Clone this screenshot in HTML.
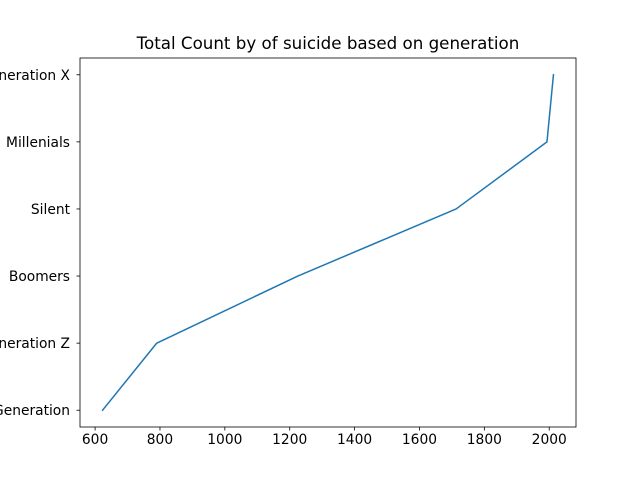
<!DOCTYPE html>
<html><head><meta charset="utf-8"><style>
html,body{margin:0;padding:0;background:#fff;}
svg{display:block;font-family:"DejaVu Sans","Liberation Sans",sans-serif;}
</style></head><body>
<svg id="chart" width="640" height="480" viewBox="0 0 640 480"></svg>
<script>
const categories = ["G.I. Generation","Generation Z","Boomers","Silent","Millenials","Generation X"];
const values = [623, 790, 1225, 1713, 1993, 2013];
const xTicks = [600, 800, 1000, 1200, 1400, 1600, 1800, 2000];

const svg = document.getElementById('chart');
const NS = 'http://www.w3.org/2000/svg';
const L = 80, R = 576, T = 58, B = 427;
const vmin = Math.min(...values), vmax = Math.max(...values);
const pad = (vmax - vmin) * 0.05;
const x0 = vmin - pad, x1 = vmax + pad;
const xs = v => L + (v - x0) / (x1 - x0) * (R - L);
const ys = i => B - (i + 0.25) / (categories.length - 1 + 0.5) * (B - T);

function mk(tag, attrs, text) {
  const e = document.createElementNS(NS, tag);
  for (const k in attrs) e.setAttribute(k, attrs[k]);
  if (text !== undefined) e.textContent = text;
  svg.appendChild(e);
  return e;
}

const title = mk('text', {x: (L + R) / 2, y: 49, 'text-anchor': 'middle', 'font-size': 16.7, fill: '#000'}, 'Total Count by of suicide based on generation');



const pts = values.map((v, i) => xs(v).toFixed(2) + ',' + ys(i).toFixed(2)).join(' ');
const line = mk('polyline', {points: pts, fill: 'none', stroke: '#1f77b4', 'stroke-width': 1.5, 'stroke-linejoin': 'round', 'stroke-linecap': 'square'});



xTicks.forEach(t => {
  const x = xs(t);
  const tk = mk('line', {x1: x, x2: x, y1: B, y2: B + 3.5, stroke: '#000', 'stroke-width': 0.8});
  
  
  const lb = mk('text', {x: x, y: B + 17, 'text-anchor': 'middle', 'font-size': 13.8, fill: '#000'}, String(t));
  
  
});

categories.forEach((c, i) => {
  const y = ys(i);
  const tk = mk('line', {x1: L - 3.5, x2: L, y1: y, y2: y, stroke: '#000', 'stroke-width': 0.8});
  
  
  const lb = mk('text', {x: L - 10, y: y + 5, 'text-anchor': 'end', 'font-size': 13.8, fill: '#000'}, c);
  
  
});

const fr = mk('rect', {x: L, y: T, width: R - L, height: B - T, fill: 'none', stroke: '#000', 'stroke-width': 0.8});


</script>
</body></html>
